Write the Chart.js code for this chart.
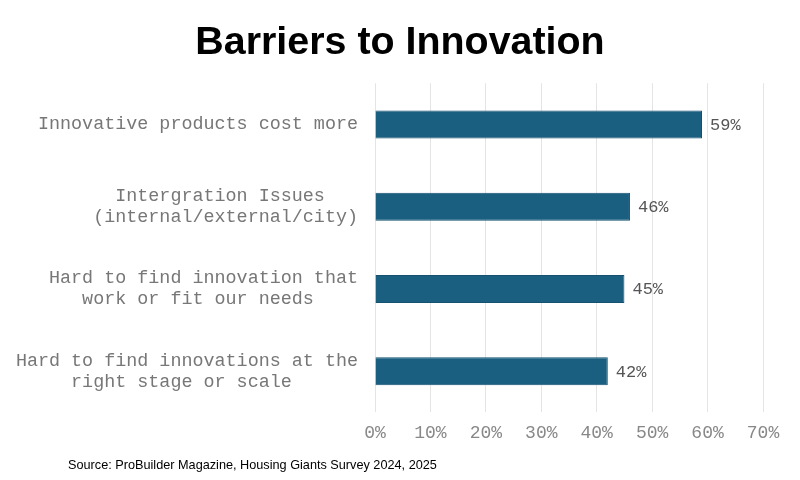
<!DOCTYPE html>
<html><head><meta charset="utf-8">
<script src="https://cdn.jsdelivr.net/npm/chart.js@4"></script>
<style>html,body{margin:0;padding:0;background:#fff}#wrap{width:800px;height:480px}</style>
</head><body><div id="wrap"><canvas id="c"></canvas></div>
<script>
const categories = [
  "Innovative products cost more",
  ["Intergration Issues", "(internal/external/city)"],
  ["Hard to find innovation that", "work or fit our needs"],
  ["Hard to find innovations at the", "right stage or scale"]
];
const values = [59, 46, 45, 42];
const tickMax = 70;
const tickStep = 10;
const titleText = "Barriers to Innovation";
const sourceText = "Source: ProBuilder Magazine, Housing Giants Survey 2024, 2025";

const mono = "'Liberation Mono', 'DejaVu Sans Mono', monospace";

// center the lines of a multi-line label inside its right-aligned block (monospace font)
function centerLines(label) {
  if (!Array.isArray(label)) return label;
  const maxLen = Math.max(...label.map(s => s.length));
  return label.map(s => s + ' '.repeat(Math.round((maxLen - s.length) / 2)));
}

const extras = {
  id: 'extras',
  afterLayout(chart) {
    // center the title over the full canvas width
    if (chart.titleBlock) { chart.titleBlock.left = 0; chart.titleBlock.right = chart.width; }
  },
  afterDatasetsDraw(chart) {
    const ctx = chart.ctx;
    const meta = chart.getDatasetMeta(0);
    ctx.save();
    ctx.font = "17px " + mono;
    ctx.fillStyle = "#555";
    ctx.textBaseline = "middle";
    ctx.textAlign = "left";
    meta.data.forEach((bar, i) => {
      ctx.fillText(values[i] + "%", bar.x + 8, bar.y + 1);
    });
    ctx.font = "12.7px 'Liberation Sans', Arial, sans-serif";
    ctx.fillStyle = "#000";
    ctx.fillText(sourceText, 68, 465);
    ctx.restore();
  }
};

new Chart(document.getElementById('c'), {
  type: 'bar',
  data: {
    labels: categories,
    datasets: [{
      data: values,
      backgroundColor: '#1a5e80',
      borderColor: '#15526f',
      borderWidth: 1,
      barPercentage: 0.34,
      categoryPercentage: 1.0
    }]
  },
  options: {
    indexAxis: 'y',
    responsive: true,
    maintainAspectRatio: false,
    animation: false,
    layout: { padding: { left: 0, right: 37, top: 0, bottom: 26 } },
    plugins: {
      legend: { display: false },
      tooltip: { enabled: false },
      title: {
        display: true,
        text: titleText,
        color: '#000',
        font: { family: "'Liberation Sans', Arial, sans-serif", size: 39.4, weight: 'bold' },
        padding: { top: 20, bottom: 16 }
      }
    },
    scales: {
      x: {
        min: 0, max: tickMax,
        ticks: {
          stepSize: tickStep,
          callback: v => v + '%',
          color: '#888',
          font: { family: mono, size: 18 },
          padding: 10
        },
        grid: { color: '#e4e4e4', drawTicks: false },
        border: { display: false }
      },
      y: {
        ticks: {
          color: '#777',
          font: { family: mono, size: 18.4, lineHeight: 1.15 },
          padding: 9,
          callback: (v, i) => centerLines(categories[i])
        },
        grid: { display: false },
        border: { display: false },
        afterFit(scale) { scale.width = 375; }
      }
    }
  },
  plugins: [extras]
});
</script></body></html>
